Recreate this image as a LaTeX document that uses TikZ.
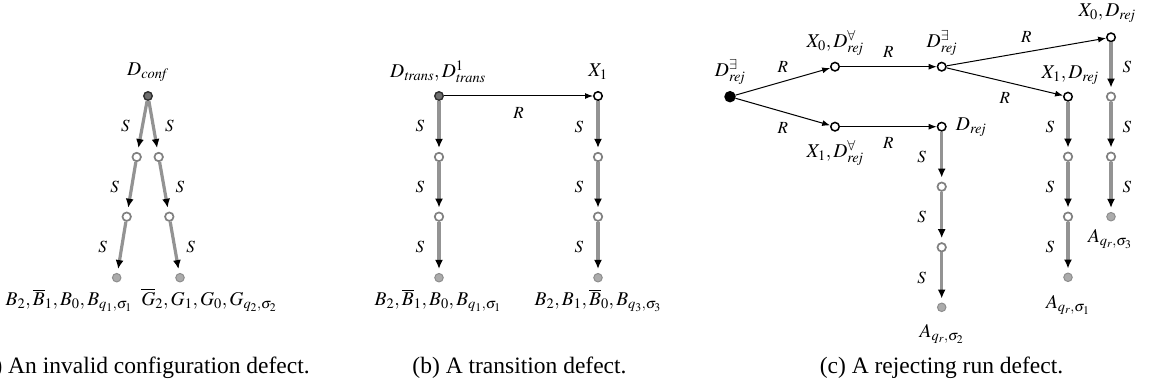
\documentclass[tikz,border=0pt]{standalone}
\usepackage{mathptmx}
\usepackage{fontspec}
\setmainfont{Liberation Serif}
\usetikzlibrary{arrows.meta}
\definecolor{sgray}{HTML}{939393}
\definecolor{midgray}{HTML}{808080}
\definecolor{topfill}{HTML}{6E6E6E}
\definecolor{topdraw}{HTML}{2E2E2E}
\definecolor{leaffill}{HTML}{ABABAB}
\definecolor{leafdraw}{HTML}{8E8E8E}
\begin{document}
\begin{tikzpicture}[x=1pt,y=-1pt,
  dot/.style={circle,inner sep=0pt,minimum size=8.5pt,line width=1.4pt},
  topdot/.style={dot,fill=topfill,draw=topdraw},
  middot/.style={dot,fill=white,draw=midgray,line width=1.7pt},
  leafdot/.style={dot,fill=leaffill,draw=leafdraw,line width=1pt},
  wdot/.style={dot,fill=white,draw=black,line width=1.5pt},
  bdot/.style={dot,fill=black,draw=black,minimum size=10pt},
  sedge/.style={draw=sgray,line width=3.2pt,-{Latex[length=9pt,width=8pt,color=black]},shorten >=4pt},
  redge/.style={draw=black,line width=1pt,-{Latex[length=8pt,width=6pt]}},
  nlab/.style={font=\fontsize{19.5}{24}\selectfont,inner sep=0pt},
  elab/.style={font=\fontsize{17}{20}\selectfont,inner sep=0pt},
  captext/.style={font=\fontsize{23.5}{28}\selectfont,inner sep=0pt}]
\useasboundingbox (0,0) rectangle (1151,387);

% ---------- panel (a)
\node[topdot] (a0) at (148,96) {};
\node[middot] (a1l) at (136.7,157) {};
\node[middot] (a1r) at (158.7,157) {};
\node[middot] (a2l) at (126.7,216.7) {};
\node[middot] (a2r) at (169.3,216.7) {};
\node[leafdot] (a3l) at (116.7,277.7) {};
\node[leafdot] (a3r) at (180,277.7) {};
\draw[sedge] (a0) -- node[elab,xshift=-17pt]{$S$} (a1l);
\draw[sedge] (a0) -- node[elab,xshift=16pt]{$S$} (a1r);
\draw[sedge] (a1l) -- node[elab,xshift=-17pt]{$S$} (a2l);
\draw[sedge] (a1r) -- node[elab,xshift=16pt]{$S$} (a2r);
\draw[sedge] (a2l) -- node[elab,xshift=-19pt]{$S$} (a3l);
\draw[sedge] (a2r) -- node[elab,xshift=16pt]{$S$} (a3r);
\node[nlab] (la0) at (148,72) {$D_{\mathit{conf}}$};
\node[nlab] (la3l) at (69,300) {$B_2, \overline{B}_1, B_0, B_{q_1,\sigma_1}$};
\node[nlab] (la3r) at (209,300) {$\overline{G}_2, G_1, G_0, G_{q_2,\sigma_2}$};
\node[captext] (capa) at (143,368) {(a) An invalid configuration defect.};

% ---------- panel (b)
\node[topdot] (b0) at (439,96) {};
\node[middot] (b1) at (439,157) {};
\node[middot] (b2) at (439,216.7) {};
\node[leafdot] (b3) at (439,277.7) {};
\node[wdot] (bx0) at (598,96) {};
\node[middot] (bx1) at (598,157) {};
\node[middot] (bx2) at (598,216.7) {};
\node[leafdot] (bx3) at (598,277.7) {};
\draw[redge] (b0) -- node[elab,yshift=-17pt]{$R$} (bx0);
\draw[sedge] (b0) -- node[elab,xshift=-19pt]{$S$} (b1);
\draw[sedge] (b1) -- node[elab,xshift=-19pt]{$S$} (b2);
\draw[sedge] (b2) -- node[elab,xshift=-19pt]{$S$} (b3);
\draw[sedge] (bx0) -- node[elab,xshift=-19pt]{$S$} (bx1);
\draw[sedge] (bx1) -- node[elab,xshift=-19pt]{$S$} (bx2);
\draw[sedge] (bx2) -- node[elab,xshift=-19pt]{$S$} (bx3);
\node[nlab] (lb0) at (438,72) {$D_{\mathit{trans}}, D^1_{\mathit{trans}}$};
\node[nlab] (lbx0) at (598,72) {$X_1$};
\node[nlab] (lb3) at (438,300) {$B_2, \overline{B}_1, B_0, B_{q_1,\sigma_1}$};
\node[nlab] (lbx3) at (598,300) {$B_2, B_1, \overline{B}_0, B_{q_3,\sigma_3}$};
\node[captext] (capb) at (519.5,368) {(b) A transition defect.};

% ---------- panel (c)
\node[bdot] (r) at (730,96.7) {};
\node[wdot] (u) at (835,66.7) {};
\node[wdot] (l) at (835,126.7) {};
\node[wdot] (e) at (941.7,66.7) {};
\node[wdot] (d) at (941.7,126.7) {};
\node[wdot] (x0) at (1111,37.3) {};
\node[wdot] (x1) at (1068,96.7) {};
\node[middot] (d1) at (941.7,186.7) {};
\node[middot] (d2) at (941.7,247.3) {};
\node[leafdot] (d3) at (941.7,307.3) {};
\node[middot] (x11) at (1068,156.7) {};
\node[middot] (x12) at (1068,216.7) {};
\node[leafdot] (x13) at (1068,277.3) {};
\node[middot] (x01) at (1111,96.7) {};
\node[middot] (x02) at (1111,156.7) {};
\node[leafdot] (x03) at (1111,216.7) {};
\draw[redge] (r) -- node[elab,yshift=15pt]{$R$} (u);
\draw[redge] (r) -- node[elab,yshift=-16pt]{$R$} (l);
\draw[redge] (u) -- node[elab,yshift=15pt]{$R$} (e);
\draw[redge] (l) -- node[elab,yshift=-16pt]{$R$} (d);
\draw[redge] (e) -- node[elab,yshift=15pt]{$R$} (x0);
\draw[redge] (e) -- node[elab,yshift=-16pt]{$R$} (x1);
\draw[sedge] (d) -- node[elab,xshift=-20pt]{$S$} (d1);
\draw[sedge] (d1) -- node[elab,xshift=-20pt]{$S$} (d2);
\draw[sedge] (d2) -- node[elab,xshift=-20pt]{$S$} (d3);
\draw[sedge] (x1) -- node[elab,xshift=-18pt]{$S$} (x11);
\draw[sedge] (x11) -- node[elab,xshift=-18pt]{$S$} (x12);
\draw[sedge] (x12) -- node[elab,xshift=-18pt]{$S$} (x13);
\draw[sedge] (x0) -- node[elab,xshift=16pt]{$S$} (x01);
\draw[sedge] (x01) -- node[elab,xshift=16pt]{$S$} (x02);
\draw[sedge] (x02) -- node[elab,xshift=16pt]{$S$} (x03);
\node[nlab] (lr) at (730,72) {$D^{\exists}_{\mathit{rej}}$};
\node[nlab] (lu) at (835,43) {$X_0, D^{\forall}_{\mathit{rej}}$};
\node[nlab] (ll) at (835,153) {$X_1, D^{\forall}_{\mathit{rej}}$};
\node[nlab] (le) at (941.7,43) {$D^{\exists}_{\mathit{rej}}$};
\node[nlab] (lx0) at (1107,13) {$X_0, D_{\mathit{rej}}$};
\node[nlab] (lx1) at (1070,75) {$X_1, D_{\mathit{rej}}$};
\node[nlab] (ld) at (971,127) {$D_{\mathit{rej}}$};
\node[nlab] (ld3) at (941.7,334) {$A_{q_r,\sigma_2}$};
\node[nlab] (lx13) at (1068,305) {$A_{q_r,\sigma_1}$};
\node[nlab] (lx03) at (1110,239) {$A_{q_r,\sigma_3}$};
\node[captext] (capc) at (941.5,368) {(c) A rejecting run defect.};
\end{tikzpicture}
\end{document}
